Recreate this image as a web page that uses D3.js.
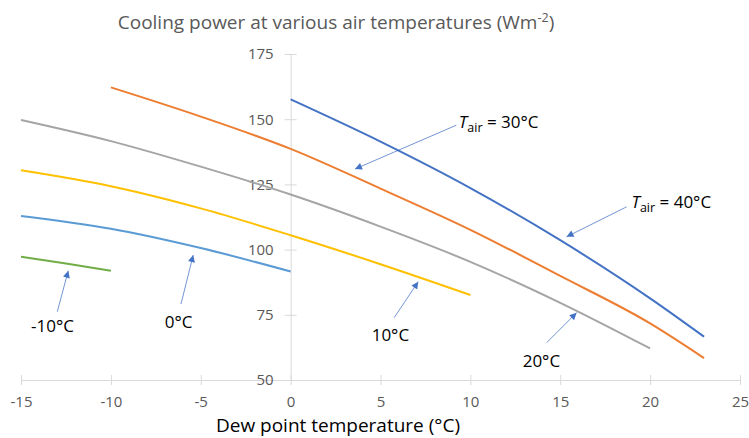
<!DOCTYPE html>
<html>
<head>
<meta charset="utf-8">
<script src="https://cdn.jsdelivr.net/npm/d3@7"></script>
<style>
  body { margin: 0; background: #fff; }
  text { font-family: "Open Sans", "Noto Sans", sans-serif; }
</style>
</head>
<body>
<div id="chart"></div>
<script>
// data
var dew_m10 = [-15, -12.5, -10]
var cool_m10 = [97.3, 94.7, 91.9]

var dew_0 = [-15, -10, -5, 0]
var cool_0 = [112.9, 108.0, 100.6, 91.6]

var dew_10 = [-15, -10, -5, 0, 5, 10]
var cool_10 = [130.4, 124.3, 115.8, 105.5, 94.4, 82.6]

var dew_20 = [-15, -10, -5, 0, 5, 10, 15, 20]
var cool_20 = [149.7, 141.6, 131.8, 121.1, 108.8, 95.3, 79.6, 62.1]

var dew_30 = [-10, -5, 0, 5, 10, 15, 20, 23]
var cool_30 = [162.2, 151.0, 138.6, 123.4, 107.6, 89.9, 71.7, 58.4]

var dew_40 = [0, 5, 10, 15, 20, 23]
var cool_40 = [157.6, 141.4, 123.6, 103.6, 81.3, 66.6]

var xTicks = [-15, -10, -5, 0, 5, 10, 15, 20, 25]
var yTicks = [50, 75, 100, 125, 150, 175]

var series = [
  {dew: dew_m10, cool: cool_m10, color: "#70AD47"},
  {dew: dew_0, cool: cool_0, color: "#5B9BD5"},
  {dew: dew_10, cool: cool_10, color: "#FFC000"},
  {dew: dew_20, cool: cool_20, color: "#A5A5A5"},
  {dew: dew_30, cool: cool_30, color: "#ED7D31"},
  {dew: dew_40, cool: cool_40, color: "#4472C4"}
]

// labels: text position and arrow (from, to) in data units
var notes = [
  {label: "-10°C", tx: -13.25, ty: 68.5, x1: -12.98, y1: 76.2, x2: -12.37, y2: 91.9},
  {label: "0°C", tx: -6.23, ty: 69.8, x1: -6.10, y1: 79.1, x2: -5.42, y2: 97.9},
  {label: "10°C", tx: 5.55, ty: 65.0, x1: 5.76, y1: 73.9, x2: 7.10, y2: 87.7},
  {label: "20°C", tx: 13.95, ty: 55.1, x1: 14.24, y1: 64.3, x2: 15.91, y2: 75.8},
  {air: "30°C", tx: 9.36, ty: 146.6, x1: 9.22, y1: 147.7, x2: 3.58, y2: 130.9},
  {air: "40°C", tx: 18.96, ty: 115.8, x1: 18.69, y1: 116.4, x2: 15.35, y2: 104.9}
]

var width = 749
    height = 438

var svg = d3.select("#chart")
  .append("svg")
    .attr("width", width)
    .attr("height", height)

var x = d3.scaleLinear().domain([-15, 25]).range([21, 740])
var y = d3.scaleLinear().domain([50, 175]).range([380, 54])

svg.append("defs").append("marker")
    .attr("id", "tip")
    .attr("viewBox", "0 0 10 10")
    .attr("refX", 10)
    .attr("refY", 5)
    .attr("markerWidth", 9)
    .attr("markerHeight", 7)
    .attr("markerUnits", "userSpaceOnUse")
    .attr("orient", "auto")
  .append("path")
    .attr("d", "M0,0L10,5L0,10Z")
    .attr("fill", "#4472C4")

// plain hyphen for negatives, like the original
var fmt = function(d) { return String(d) }

// x axis (crosses at y = 50)
var xAxis = svg.append("g")
    .attr("transform", "translate(0," + y(50) + ")")
    .call(d3.axisBottom(x).tickValues(xTicks).tickFormat(fmt).tickSize(0).tickPadding(16))
xAxis.select(".domain").attr("stroke", "#D9D9D9").attr("stroke-width", 1)
xAxis.selectAll(".tick").append("line")
    .attr("y1", -5).attr("y2", 5).attr("stroke", "#D9D9D9")
xAxis.selectAll("text")
    .attr("fill", "#595959").style("font-size", "15px")

// y axis (crosses at x = 0)
var yAxis = svg.append("g")
    .attr("transform", "translate(" + x(0) + ",0)")
    .call(d3.axisLeft(y).tickValues(yTicks).tickFormat(fmt).tickSize(0).tickPadding(17))
yAxis.select(".domain").attr("stroke", "#D9D9D9").attr("stroke-width", 1)
yAxis.selectAll(".tick").append("line")
    .attr("x1", -6).attr("x2", 6).attr("stroke", "#D9D9D9")
yAxis.selectAll("text")
    .attr("fill", "#595959").style("font-size", "15px")

var line = d3.line()
    .x(function(d) { return x(d[0]) })
    .y(function(d) { return y(d[1]) })
    .curve(d3.curveMonotoneX)

svg.selectAll(".series")
  .data(series)
  .enter()
  .append("path")
    .attr("class", "series")
    .attr("d", function(s) { return line(d3.zip(s.dew, s.cool)) })
    .attr("fill", "none")
    .attr("stroke", function(s) { return s.color })
    .attr("stroke-width", 2)

// arrows
svg.selectAll(".arrow")
  .data(notes)
  .enter()
  .append("line")
    .attr("x1", function(d) { return x(d.x1) })
    .attr("y1", function(d) { return y(d.y1) })
    .attr("x2", function(d) { return x(d.x2) })
    .attr("y2", function(d) { return y(d.y2) })
    .attr("stroke", "#4472C4")
    .attr("stroke-width", 0.75)
    .attr("marker-end", "url(#tip)")

// plain labels
svg.selectAll(".lab")
  .data(notes.filter(function(d) { return d.label }))
  .enter()
  .append("text")
    .attr("x", function(d) { return x(d.tx) })
    .attr("y", function(d) { return y(d.ty) })
    .attr("text-anchor", "middle")
    .style("font-size", "17px")
    .attr("fill", "#000")
    .text(function(d) { return d.label })

// T_air labels
var airLab = svg.selectAll(".air")
  .data(notes.filter(function(d) { return d.air }))
  .enter()
  .append("text")
    .attr("x", function(d) { return x(d.tx) })
    .attr("y", function(d) { return y(d.ty) })
    .style("font-size", "17px")
    .attr("fill", "#000")
airLab.append("tspan").style("font-style", "italic").text("T")
airLab.append("tspan").attr("dy", 4).style("font-size", "12.5px").text("air")
airLab.append("tspan").attr("dy", -4).text(function(d) { return " = " + d.air })

// title
var title = svg.append("text")
    .attr("x", 336)
    .attr("y", 29)
    .attr("text-anchor", "middle")
    .attr("fill", "#595959")
    .style("font-size", "19px")
title.append("tspan").text("Cooling power at various air temperatures (Wm")
title.append("tspan").attr("dy", -7).style("font-size", "12.5px").text("-2")
title.append("tspan").attr("dy", 7).text(")")

// x axis title
svg.append("text")
    .attr("x", 338)
    .attr("y", 432)
    .attr("text-anchor", "middle")
    .attr("fill", "#000")
    .style("font-size", "19px")
    .text("Dew point temperature (°C)")
</script>
</body>
</html>
